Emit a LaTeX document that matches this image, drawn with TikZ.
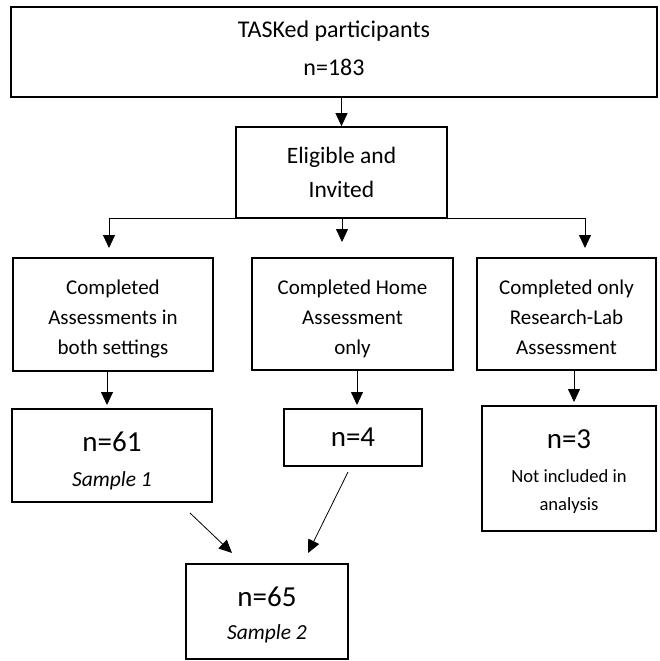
\documentclass[tikz,border=0pt]{standalone}
\usepackage{fontspec}
\setmainfont{Carlito}
\usetikzlibrary{arrows.meta}
\newcommand{\mystrut}{\rule[-9pt]{0pt}{30pt}}
\newcommand{\firststrut}{\rule[-9pt]{0pt}{38pt}}
\begin{document}
\begin{tikzpicture}[x=1pt,y=-1pt,
  box/.style={draw=black, line width=1.7pt, rectangle, align=center, inner sep=0pt, font=\fontsize{21}{30}\selectfont},
  arr/.style={line width=0.8pt, -{Triangle[width=12pt,length=13pt]}}]
\useasboundingbox (0,0) rectangle (659,661);
\node[box, minimum width=646pt, minimum height=90pt, font=\fontsize{24}{38}\selectfont] (top) at (334,52) {TASKed participants\\n=183\rule[-7pt]{0pt}{0pt}};
\node[box, minimum width=211pt, minimum height=91pt, font=\fontsize{23.5}{34}\selectfont] (elig) at (341.5,172.5) {Eligible and\\Invited};
\node[box, minimum width=200pt, minimum height=113pt] (c1) at (113,314.5) {\firststrut Completed\\\mystrut Assessments in\\\mystrut both settings};
\node[box, minimum width=201pt, minimum height=112pt] (c2) at (352.5,314) {\firststrut Completed Home\\\mystrut Assessment\\\mystrut only};
\node[box, minimum width=179pt, minimum height=112pt] (c3) at (566.5,314) {\firststrut Completed only\\\mystrut Research-Lab\\\mystrut Assessment};
\node[box, minimum width=200pt, minimum height=93pt] (n1) at (112,455.5) {\rule{0pt}{30pt}{\fontsize{29}{34}\selectfont n=61}\\[5pt]{\fontsize{21.5}{24}\selectfont\itshape Sample 1}};
\node[box, minimum width=138pt, minimum height=57pt] (n2) at (353,437.5) {\fontsize{29}{34}\selectfont n=4};
\node[box, minimum width=174pt, minimum height=125pt] (n3) at (569,468.5) {\rule{0pt}{26pt}{\fontsize{29}{36}\selectfont n=3}\\[4pt]{\fontsize{18.6}{27}\selectfont Not included in}\\[-2pt]{\fontsize{18.6}{27}\selectfont analysis}\rule[-5pt]{0pt}{0pt}};
\node[box, minimum width=162pt, minimum height=95pt] (n4) at (267,611.5) {\rule{0pt}{26pt}{\fontsize{29}{34}\selectfont n=65}\\[3pt]{\fontsize{21.5}{24}\selectfont\itshape Sample 2}};
% connectors
\draw[arr] (top.south -| elig.north) -- (elig.north);
\coordinate (a1) at (109,248);
\coordinate (a2) at (342,242);
\coordinate (a3) at (585,248);
\draw[arr] (elig.south west) -| (a1);
\draw[arr] (elig.south -| a2) -- (a2);
\draw[arr] (elig.south east) -| (a3);
\coordinate (b1) at (107,405);
\coordinate (b2) at (357,405);
\coordinate (b3) at (574,402);
\draw[arr] (c1.south -| b1) -- (b1);
\draw[arr] (c2.south -| b2) -- (b2);
\draw[arr] (c3.south -| b3) -- (b3);
\coordinate (d1s) at (190,513);
\coordinate (d1e) at (232,553);
\coordinate (d2s) at (348,472);
\coordinate (d2e) at (308,553);
\draw[arr] (d1s) -- (d1e);
\draw[arr] (d2s) -- (d2e);
\end{tikzpicture}
\end{document}
